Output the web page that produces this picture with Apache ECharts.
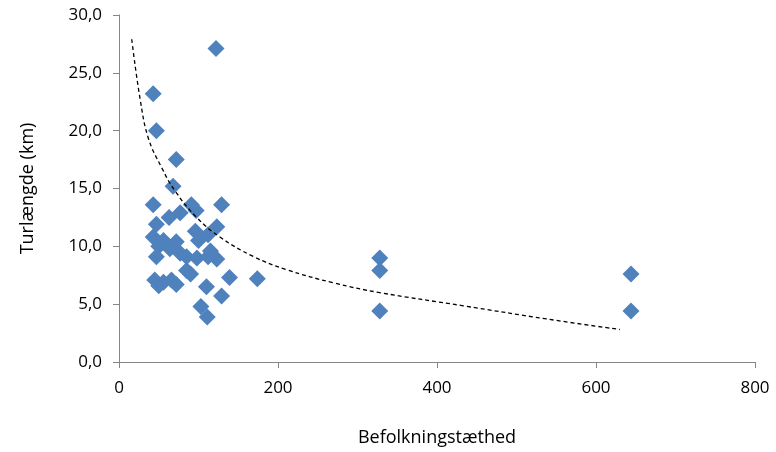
<!DOCTYPE html>
<html>
<head>
<meta charset="utf-8">
<script src="https://cdn.jsdelivr.net/npm/echarts@6/dist/echarts.min.js"></script>
<style>
  html, body { margin: 0; padding: 0; background: #fff; }
  #chart { width: 776px; height: 452px; }
</style>
</head>
<body>
<div id="chart"></div>
<script>
// Befolkningstæthed (x) og turlængde i km (y)
const density = [122, 43, 47, 72, 68, 43, 129, 91, 97, 77, 63, 123, 47, 96, 43, 56, 72, 100, 112, 50,
                 64, 77, 115, 47, 85, 98, 123, 112, 45, 56, 72, 50, 85, 90, 139, 174, 110, 129, 103, 111,
                 66, 328, 328, 328, 644, 644];
const tripLength = [27.1, 23.2, 20.0, 17.5, 15.2, 13.6, 13.6, 13.6, 13.1, 12.9, 12.5, 11.7, 11.9, 11.3, 10.8, 10.5, 10.4, 10.5, 11.0, 10.0,
                    9.8, 9.4, 9.6, 9.1, 9.1, 9.0, 8.9, 9.1, 7.1, 6.9, 6.7, 6.6, 7.9, 7.6, 7.3, 7.2, 6.5, 5.7, 4.8, 3.9,
                    7.1, 9.0, 7.9, 4.4, 7.6, 4.4];

// Tendenslinje
const trendX = [16, 26.4, 36.9, 53.7, 70.4, 97.7, 127, 169, 211, 270, 328, 433, 538, 630];
const trendY = [27.9, 22.8, 19.35, 16.8, 14.8, 12.5, 10.8, 9.12, 7.98, 6.84, 6.0, 4.86, 3.72, 2.81];

const xTicks = [0, 200, 400, 600, 800];
const yTicks = [0, 5, 10, 15, 20, 25, 30];

const points = density.map((d, i) => [d, tripLength[i]]);
const trend = trendX.map((d, i) => [d, trendY[i]]);

const font = '"Open Sans", "Noto Sans", sans-serif';
const axisColor = '#868686';

const chart = echarts.init(document.getElementById('chart'), null, { renderer: 'canvas' });
chart.setOption({
  animation: false,
  backgroundColor: '#fff',
  grid: { left: 119, right: 21, top: 15, bottom: 85, containLabel: false },
  xAxis: {
    type: 'value',
    min: xTicks[0],
    max: xTicks[xTicks.length - 1],
    interval: 200,
    name: 'Befolkningstæthed',
    nameLocation: 'middle',
    nameGap: 67,
    nameTextStyle: { fontFamily: font, fontSize: 18, color: '#000' },
    axisLine: { show: true, lineStyle: { color: axisColor, width: 1 } },
    axisTick: { show: true, length: 6, lineStyle: { color: axisColor } },
    axisLabel: { fontFamily: font, fontSize: 17, color: '#000', margin: 18 },
    splitLine: { show: false }
  },
  yAxis: {
    type: 'value',
    min: yTicks[0],
    max: yTicks[yTicks.length - 1],
    interval: 5,
    name: 'Turlængde (km)',
    nameLocation: 'middle',
    nameGap: 82,
    nameRotate: 90,
    nameTextStyle: { fontFamily: font, fontSize: 18, color: '#000' },
    axisLine: { show: true, lineStyle: { color: axisColor, width: 1 } },
    axisTick: { show: true, length: 6, lineStyle: { color: axisColor } },
    axisLabel: {
      fontFamily: font, fontSize: 17, color: '#000', margin: 17,
      formatter: v => v.toFixed(1).replace('.', ',')
    },
    splitLine: { show: false }
  },
  series: [
    {
      type: 'scatter',
      data: points,
      symbol: 'diamond',
      symbolSize: 17,
      itemStyle: { color: '#4F81BD', opacity: 1 },
      z: 2
    },
    {
      type: 'line',
      data: trend,
      smooth: 0.4,
      showSymbol: false,
      lineStyle: { color: '#000', width: 1.3, type: [4, 3] },
      z: 3
    }
  ]
});
</script>
</body>
</html>
